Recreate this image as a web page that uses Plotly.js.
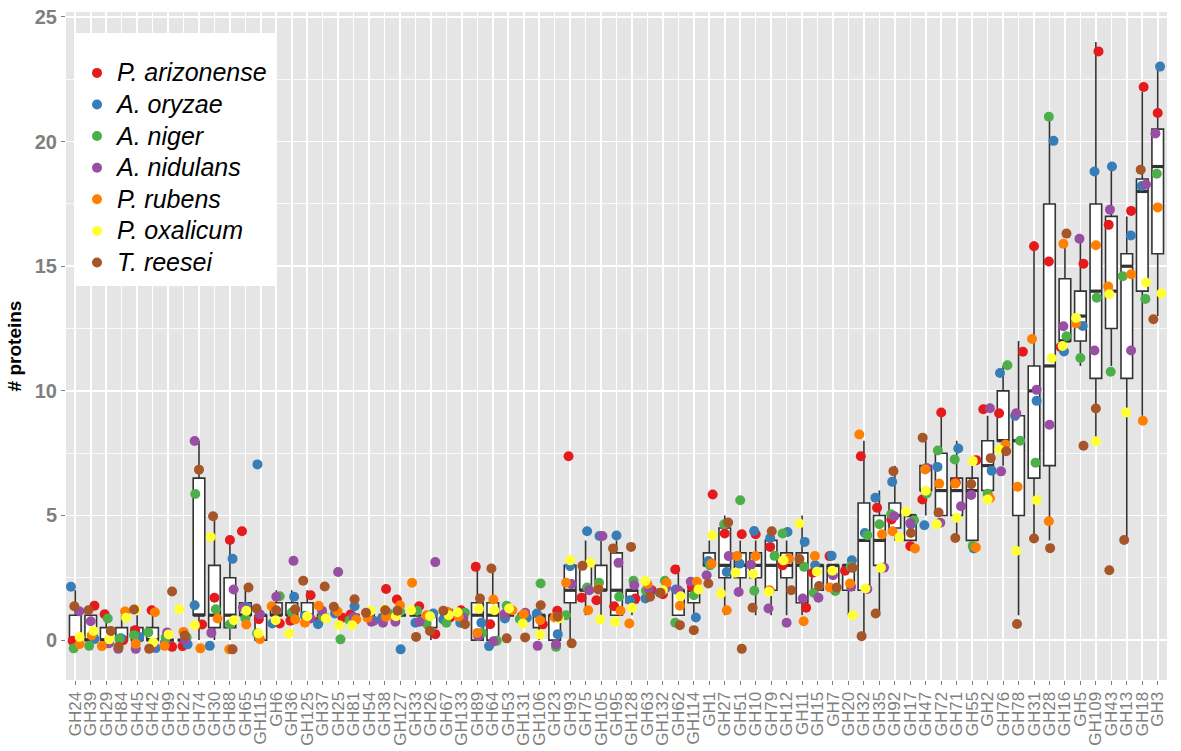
<!DOCTYPE html>
<html><head><meta charset="utf-8">
<script src="https://cdn.plot.ly/plotly-3.0.1.min.js"></script>
<style>html,body{margin:0;padding:0;background:#fff}#chart{width:1181px;height:751px}</style>
</head><body><div id="chart"></div>
<script>
const categories = ["GH24","GH39","GH29","GH84","GH45","GH42","GH99","GH22","GH74","GH30",
 "GH88","GH65","GH115","GH6","GH36","GH125","GH37","GH25","GH81","GH54",
 "GH38","GH127","GH33","GH26","GH67","GH133","GH89","GH64","GH53","GH131",
 "GH106","GH23","GH93","GH75","GH105","GH95","GH128","GH63","GH132","GH62",
 "GH114","GH1","GH27","GH51","GH10","GH79","GH12","GH11","GH15","GH7",
 "GH20","GH32","GH35","GH92","GH17","GH47","GH72","GH71","GH55","GH2",
 "GH76","GH78","GH31","GH28","GH16","GH5","GH109","GH43","GH13","GH18",
 "GH3"];

const speciesNames = ["P. arizonense","A. oryzae","A. niger","A. nidulans","P. rubens","P. oxalicum","T. reesei"];
const speciesColors = ["#E41A1C","#377EB8","#4DAF4A","#984EA3","#FF7F00","#FFFF33","#A65628"];

// values as read (jittered vertically in the original); box uses rounded counts
const arizonense = [-0.03,1.38,1.04,0.0,0.4,1.2,-0.27,-0.24,0.63,1.7, 4.02,4.37,0.84,0.67,0.78,1.8,0.76,0.9,1.03,1.0, 2.05,1.63,1.36,0.24,0.91,1.2,2.94,0.64,0.94,0.96, 0.64,1.18,7.38,1.7,1.6,1.36,1.67,2.0,1.84,2.83, 2.14,5.84,4.28,4.25,4.25,3.74,3.0,1.3,2.7,3.37, 2.78,7.38,5.31,4.84,3.77,5.64,9.13,6.32,7.22,9.26, 9.1,11.57,15.8,15.19,11.76,15.1,23.62,16.66,17.22,22.19, 21.15];
const oryzae = [2.14,0.04,-0.1,0.08,0.13,-0.32,-0.1,-0.17,1.4,-0.23, 3.26,1.34,7.05,0.67,1.74,0.98,0.64,1.07,1.36,0.78, 0.85,-0.37,0.7,1.07,0.83,0.7,0.7,-0.24,0.87,0.9, 1.07,0.24,2.97,4.37,4.18,4.2,1.6,1.67,1.9,2.03, 0.91,3.17,2.73,3.07,4.38,4.1,4.34,3.94,3.0,3.38, 3.2,4.3,5.71,6.35,4.64,4.61,6.95,7.69,3.68,6.8, 10.72,9.0,9.6,20.03,11.58,12.6,18.8,19.0,16.23,18.22, 23.01];
const niger = [-0.33,-0.23,0.87,0.05,0.2,0.31,0.1,0.11,5.86,1.24, 0.64,0.87,0.27,1.76,1.11,0.9,0.95,0.03,0.8,1.1, 1.1,1.15,1.18,0.67,0.7,1.1,0.29,-0.03,1.38,0.85, 2.27,-0.27,1.0,2.11,2.3,1.74,2.38,1.98,2.38,0.7, 1.8,3.0,4.65,5.61,1.98,3.38,4.28,2.94,1.9,1.97, 2.95,4.21,4.65,5.05,4.81,5.88,7.61,7.25,3.78,5.87, 11.03,8.0,7.12,21.0,12.19,11.32,13.74,10.77,14.6,13.69, 18.71];
const nidulans = [1.16,0.76,-0.13,-0.35,-0.35,-0.2,0.31,0.0,7.99,0.29, 2.03,1.31,1.04,1.74,3.18,0.87,1.18,2.73,0.93,0.74, 0.7,0.74,0.74,3.13,1.07,0.9,0.16,-0.05,1.05,1.1, -0.23,-0.17,2.25,2.0,4.18,3.1,2.2,2.05,2.1,2.0, 2.34,2.6,3.37,1.93,3.03,1.27,0.7,1.67,1.7,2.6, 2.14,2.05,2.91,4.97,4.7,6.91,4.71,5.37,5.82,9.3, 6.77,9.1,10.04,8.64,12.59,16.1,11.62,17.27,11.62,18.28, 20.33];
const rubens = [-0.16,0.19,-0.24,1.15,-0.15,1.12,-0.23,0.33,-0.33,0.87, -0.37,0.63,0.04,1.36,0.83,0.7,1.38,1.15,0.83,0.9, 0.94,1.4,2.3,1.0,1.14,0.94,0.29,1.63,1.2,1.04, 0.8,0.91,2.3,1.2,2.07,1.18,0.67,2.25,2.3,1.38, 2.34,3.07,1.2,3.37,3.37,2.0,3.27,0.76,3.37,2.11, 2.27,8.25,4.25,4.37,3.68,6.85,6.28,6.28,3.72,5.69, 7.85,6.15,12.08,4.77,15.9,12.7,15.84,14.19,14.68,8.8, 17.36];
const oxalicum = [0.13,0.37,0.03,0.9,1.23,-0.09,0.23,1.24,0.6,4.14, 0.8,1.18,0.27,0.8,0.27,0.96,0.87,0.6,0.6,1.18, 1.24,0.96,1.2,0.96,1.0,1.12,1.26,1.2,1.27,0.67, 0.23,0.87,3.2,3.1,0.83,0.74,1.3,2.37,2.0,1.76, 2.03,4.21,1.87,2.7,2.65,1.94,3.2,4.68,2.74,2.78, 1.0,2.07,2.9,4.12,5.15,5.99,4.65,4.91,7.19,5.64, 7.65,3.58,5.61,11.31,11.8,12.92,7.98,13.88,9.13,14.35, 13.91];
const reesei = [1.36,1.2,0.37,-0.27,1.23,-0.35,1.95,0.19,6.84,4.97, -0.37,2.11,1.27,1.2,1.24,2.38,2.15,1.34,1.64,1.1, 1.2,1.18,0.13,0.37,1.18,0.64,1.67,2.87,0.07,0.11, 1.4,0.94,-0.13,2.98,2.03,3.68,3.74,1.74,1.9,0.6, 0.4,2.27,4.72,-0.35,1.3,4.37,2.0,3.25,2.17,2.11, 2.9,0.16,1.07,6.78,4.3,8.12,5.12,4.1,6.26,7.3, 7.58,0.65,4.08,3.69,16.31,7.8,9.29,2.8,4.02,18.87, 12.87];

// horizontal jitter of each point (fraction of a category)
const arizonenseJitter = [-0.17,0.24,-0.1,0.1,-0.13,-0.06,0.26,-0.06,0.2,0, 0,-0.22,-0.13,0.22,-0.09,0.22,-0.26,0.28,-0.2,0, 0.1,-0.2,0.24,0.28,0.24,-0.06,-0.1,-0.17,-0.2,-0.13, 0.24,0.17,-0.1,-0.26,-0.3,-0.15,0.22,0.28,0,-0.2, -0.13,0.22,0,0.1,0,-0.06,-0.26,0.26,-0.3,-0.22, -0.22,-0.2,-0.15,-0.22,0,-0.22,0,-0.06,0.26,-0.28, -0.26,0.28,0,-0.04,-0.28,0.2,0.17,-0.17,0.28,0.09, 0];
const oryzaeJitter = [-0.28,0.24,0.2,-0.06,0.13,0.2,-0.2,0.26,-0.28,-0.3, 0.17,0,-0.22,-0.26,0.15,-0.15,-0.3,-0.2,0.06,0.3, -0.2,0.04,0,0.15,-0.2,-0.1,0.26,-0.24,-0.22,0.2, -0.15,0.2,0,0.1,-0.1,0,-0.13,-0.13,-0.2,-0.17, 0.13,-0.06,0.13,-0.04,-0.1,-0.06,0.06,0.17,-0.15,-0.09, 0.22,0.06,-0.26,-0.17,0.04,-0.09,-0.24,0.1,0.1,0.26, -0.2,-0.22,0.17,0.26,-0.06,0.15,-0.09,0.04,0.26,-0.04, 0.15];
const nigerJitter = [-0.1,-0.1,0.1,-0.15,-0.2,-0.28,-0.15,0.2,-0.24,0.09, 0,0,-0.24,0.22,0,0.06,0,0.15,-0.26,-0.06, 0.2,0,0.1,-0.28,0,0.2,0.3,0.26,-0.1,-0.25, 0.09,0.09,-0.26,0.1,-0.13,0.17,0.1,-0.09,0.13,-0.2, 0,0.04,-0.04,0,-0.09,0.22,-0.26,0.13,-0.24,0.15, 0.15,0.22,0,-0.24,0.24,0.06,-0.22,-0.13,0.04,0, 0.28,0.1,0.1,-0.04,0.1,0,0.06,-0.04,-0.26,0.2, -0.06];
const nidulansJitter = [0.26,0,0.15,-0.22,-0.09,0.05,-0.06,0.1,-0.28,-0.2, 0.24,-0.15,-0.06,0,0.11,0.22,-0.04,0,0,0.15, -0.1,-0.3,0.26,0.28,0.3,0.1,0.06,0.04,-0.24,0.1, -0.1,0.09,0.09,0.24,0.09,0.13,0.15,0.1,0.2,0, -0.2,-0.17,0.26,-0.1,-0.3,-0.17,0,0.04,0.06,0, 0.17,0.22,0.3,-0.04,0,0.06,-0.06,0.28,-0.06,0.15, -0.13,-0.15,0.17,0,-0.1,-0.06,-0.09,-0.09,0.28,0.24, -0.15];
const rubensJitter = [0.28,0.06,-0.28,0.22,-0.09,0.15,-0.22,0,0.09,0.2, -0.04,0.06,-0.06,-0.3,0.22,-0.15,-0.26,-0.04,0.17,-0.1, 0.1,0,-0.22,-0.28,0.06,-0.2,0,0.04,0.26,0, 0.06,0,-0.26,0.17,-0.17,0.26,-0.17,0,0.24,0.1, 0.2,0.15,0.13,-0.2,0,-0.1,0.15,0.1,-0.17,-0.2, 0.1,-0.3,0.17,-0.15,0.3,-0.04,-0.13,-0.1,0.24,0.15, 0.15,-0.06,-0.13,-0.04,-0.1,-0.28,0,-0.2,0.28,0.04, 0];
const oxalicumJitter = [0.28,0.17,0.2,0.28,-0.09,0.04,0.04,-0.28,-0.26,-0.24, 0.26,0.06,-0.15,-0.04,-0.17,0,0.2,0.06,-0.1,0.1, 0,-0.26,-0.28,-0.06,0.15,-0.28,0.1,0.1,0.06,-0.06, 0.06,0.28,0,0.3,-0.06,-0.09,0,-0.13,0,0.15, 0.3,0.2,-0.24,-0.3,-0.17,-0.15,-0.2,-0.17,-0.04,-0.04, 0.28,0.1,0.1,0.28,-0.28,0,-0.28,0,0.04,0, -0.24,-0.15,0.17,0.15,-0.15,-0.28,0,-0.13,-0.04,0.24, 0.24];
const reeseiJitter = [-0.06,-0.15,0.3,-0.2,-0.2,-0.22,0.26,0.08,0,-0.09, 0.17,0.2,-0.28,0,0.22,-0.26,0.13,-0.28,0.06,-0.2, 0.04,-0.17,0.04,-0.06,-0.2,0.2,0.17,-0.09,-0.1,0.09, 0.1,0.2,0.1,-0.2,-0.17,-0.22,-0.06,0.17,-0.15,0.1, 0,-0.06,0.22,0.1,-0.2,0.04,0.3,-0.17,0.1,0.24, 0.26,-0.15,-0.24,-0.09,0.04,-0.2,-0.17,-0.09,-0.06,0.2, 0.2,-0.1,0,0.04,0.1,0.2,0,-0.13,-0.17,-0.1, -0.28];

const yTicks = [0,5,10,15,20,25];

const seriesValues = [arizonense, oryzae, niger, nidulans, rubens, oxalicum, reesei];
const seriesJitter = [arizonenseJitter, oryzaeJitter, nigerJitter, nidulansJitter, rubensJitter, oxalicumJitter, reeseiJitter];

const positions = categories.map((c, i) => i + 1);
const boxWidth = 0.75;

// Box trace: integer counts per category
const boxX = [], boxY = [];
seriesValues.forEach(vals => {
  vals.forEach((v, i) => { boxX.push(positions[i]); boxY.push(Math.round(v)); });
});

// thicker median bars (ggplot style), median of the integer counts
const medX = [], medY = [];
positions.forEach((p, i) => {
  const counts = seriesValues.map(s => Math.round(s[i])).sort((a, b) => a - b);
  const m = counts[Math.floor(counts.length / 2)];
  medX.push(p - boxWidth / 2, p + boxWidth / 2, null);
  medY.push(m, m, null);
});

const traces = [{
  type: 'box', x: boxX, y: boxY,
  boxpoints: 'outliers', quartilemethod: 'inclusive',
  width: boxWidth, whiskerwidth: 0,
  fillcolor: '#FFFFFF', line: {color: '#333333', width: 1.6},
  marker: {opacity: 0, size: 1, line: {width: 0}},
  showlegend: false, hoverinfo: 'skip'
}, {
  type: 'scatter', mode: 'lines', x: medX, y: medY,
  line: {color: '#333333', width: 3.2}, connectgaps: false,
  showlegend: false, hoverinfo: 'skip'
}];

seriesValues.forEach((vals, s) => {
  traces.push({
    type: 'scatter', mode: 'markers',
    name: '<span style="font-size:25px"><i>' + speciesNames[s] + '</i></span>',
    x: vals.map((v, i) => positions[i] + seriesJitter[s][i]),
    y: vals,
    marker: {color: speciesColors[s], size: 10, line: {width: 0}},
    hoverinfo: 'skip'
  });
});

const layout = {
  width: 1181, height: 751,
  margin: {l: 66, r: 14, t: 12, b: 71},
  paper_bgcolor: '#FFFFFF', plot_bgcolor: '#E5E5E5',
  font: {family: 'Liberation Sans, Arial, sans-serif'},
  showlegend: true,
  xaxis: {
    range: [0.4, 71.6], tickmode: 'array', tickvals: positions, ticktext: categories,
    tickangle: -90, tickfont: {size: 17, color: '#7F7F7F'},
    showgrid: true, gridcolor: '#FFFFFF', gridwidth: 1.6, zeroline: false,
    ticks: 'outside', ticklen: 4, tickcolor: '#7F7F7F', showline: false, fixedrange: true
  },
  yaxis: {
    range: [-1.6, 25.2], tickmode: 'array', tickvals: yTicks,
    tickfont: {size: 20, color: '#7F7F7F', weight: 'bold'},
    showgrid: true, gridcolor: '#FFFFFF', gridwidth: 1.6, zeroline: false,
    minor: {dtick: 2.5, tick0: 0, showgrid: true, gridcolor: '#FFFFFF', gridwidth: 0.8},
    ticks: 'outside', ticklen: 4, tickcolor: '#7F7F7F',
    title: {text: '# proteins', font: {size: 19, color: '#000000', weight: 'bold'}, standoff: 8}
  },
  legend: {
    x: 0.01, y: 0.94, xanchor: 'left', yanchor: 'top',
    bgcolor: 'rgba(0,0,0,0)', borderwidth: 0,
    font: {size: 22, color: '#000000'}
  },
  shapes: [{
    type: 'rect', xref: 'paper', yref: 'paper',
    x0: 0.0082, x1: 0.1916, y0: 0.590, y1: 0.9686,
    fillcolor: '#FFFFFF', line: {width: 0}, layer: 'above'
  }]
};

Plotly.newPlot('chart', traces, layout, {staticPlot: true, displayModeBar: false});
</script>
</body></html>
